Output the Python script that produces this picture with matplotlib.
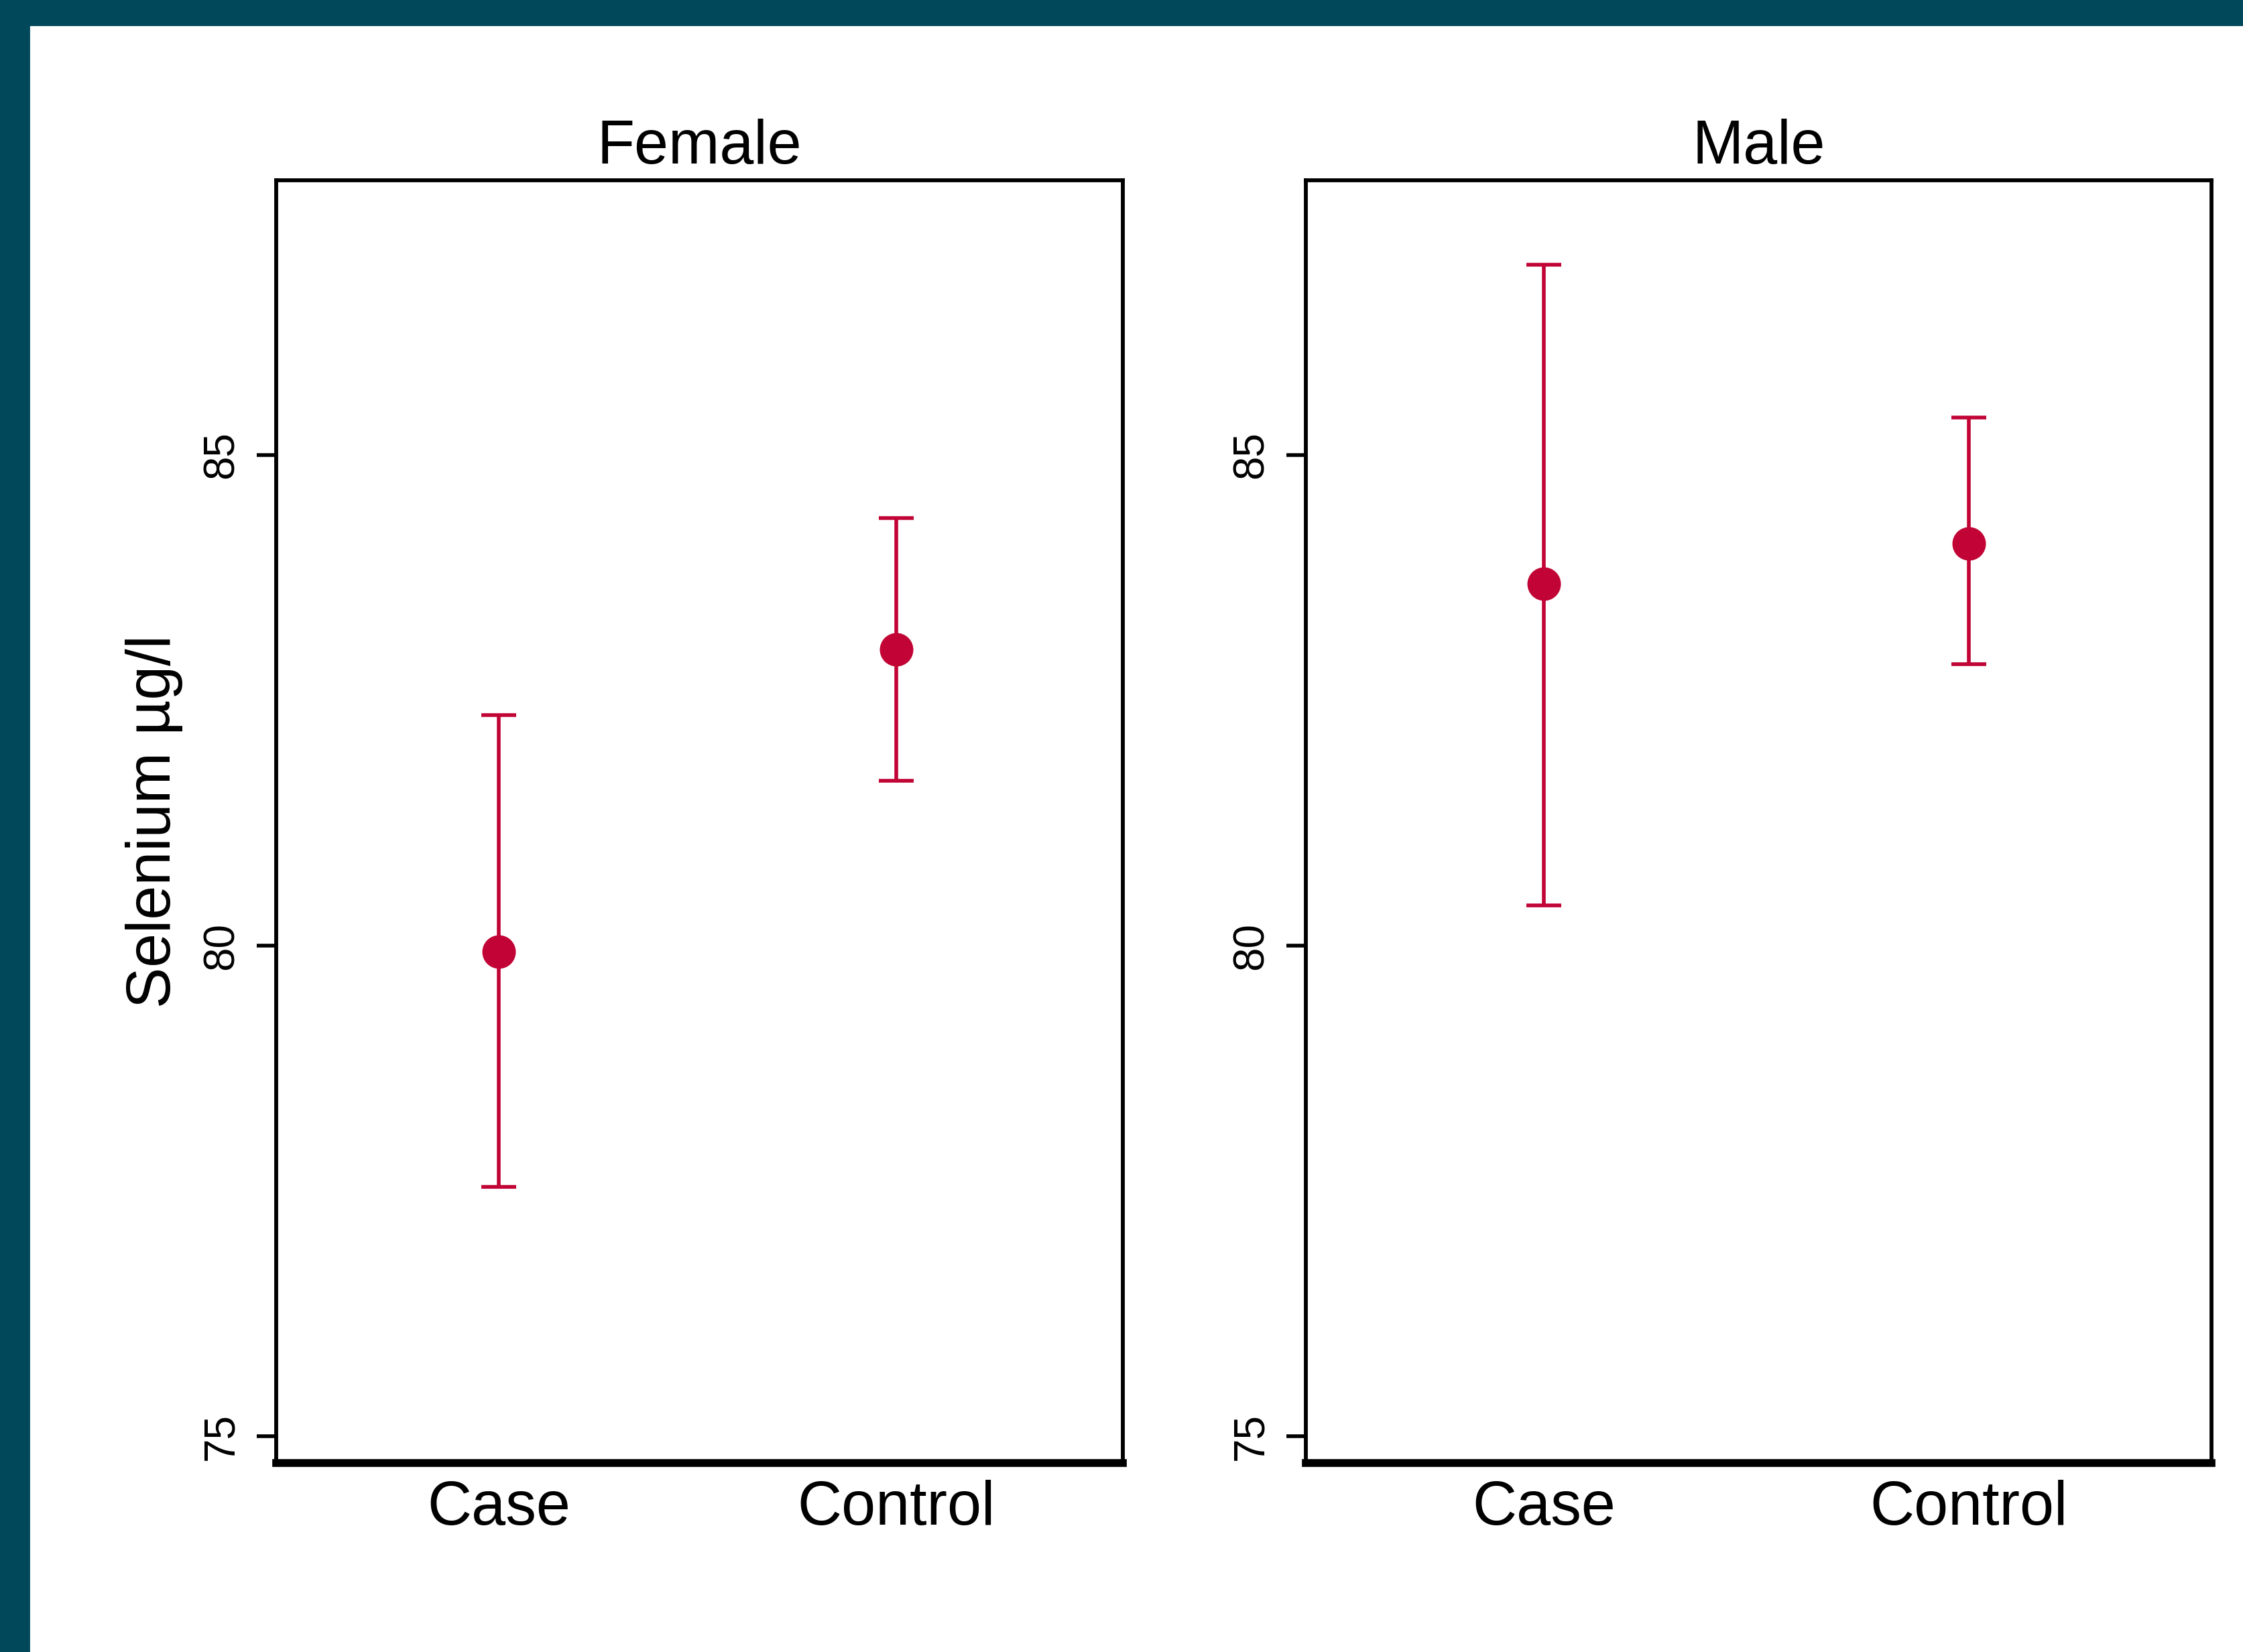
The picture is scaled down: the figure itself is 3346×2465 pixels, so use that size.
import matplotlib
matplotlib.use("Agg")
import matplotlib.pyplot as plt
from matplotlib.patches import Rectangle

# values
panels = ["Female", "Male"]
groups = ["Case", "Control"]
means = {"Female": [79.94, 83.02], "Male": [83.69, 84.10]}
lower = {"Female": [77.54, 81.68], "Male": [80.41, 82.87]}
upper = {"Female": [82.35, 84.36], "Male": [86.94, 85.38]}
yticks = [75, 80, 85]

red = "#C10435"
frame = "#00485A"

plt.rcParams["font.family"] = ["Liberation Sans", "DejaVu Sans"]

W, H = 3346, 2465
fig = plt.figure(figsize=(W / 200, H / 200), dpi=200, facecolor="white")
fig.patches.append(Rectangle((0, 1 - 37 / H), 1, 37 / H, transform=fig.transFigure,
                             color=frame, zorder=0))
fig.patches.append(Rectangle((0, 0), 43 / W, 1, transform=fig.transFigure,
                             color=frame, zorder=0))

boxes = [(412, 1675), (1948, 3299)]
top, bottom = 269, 2183
for name, (x0, x1) in zip(panels, boxes):
    ax = fig.add_axes([x0 / W, 1 - bottom / H, (x1 - x0) / W, (bottom - top) / H])
    xs = [1, 2]
    m = means[name]
    err = [[a - b for a, b in zip(m, lower[name])],
           [b - a for a, b in zip(m, upper[name])]]
    ax.errorbar(xs, m, yerr=err, fmt="none", ecolor=red, elinewidth=2.0,
                capsize=9.5, capthick=2.0)
    ax.plot(xs, m, "o", color=red, markersize=18, markeredgewidth=0)
    ax.set_xlim(0.44, 2.57)
    ax.set_ylim(74.73, 87.8)
    ax.set_xticks(xs)
    ax.set_xticklabels(groups, fontsize=33)
    ax.set_yticks(yticks)
    ax.set_yticklabels([str(t) for t in yticks], fontsize=23, rotation=90, va="center")
    ax.tick_params(axis="x", length=0, pad=9)
    ax.tick_params(axis="y", length=10.5, width=2.0, pad=8)
    for s in ax.spines.values():
        s.set_linewidth(2.1)
    ax.spines["bottom"].set_linewidth(4.2)
    ax.set_title(name, fontsize=33, pad=9)
    if name == "Female":
        ax.set_ylabel("Selenium µg/l", fontsize=33, labelpad=10)

fig.savefig("out.png", dpi=200, facecolor="white")
